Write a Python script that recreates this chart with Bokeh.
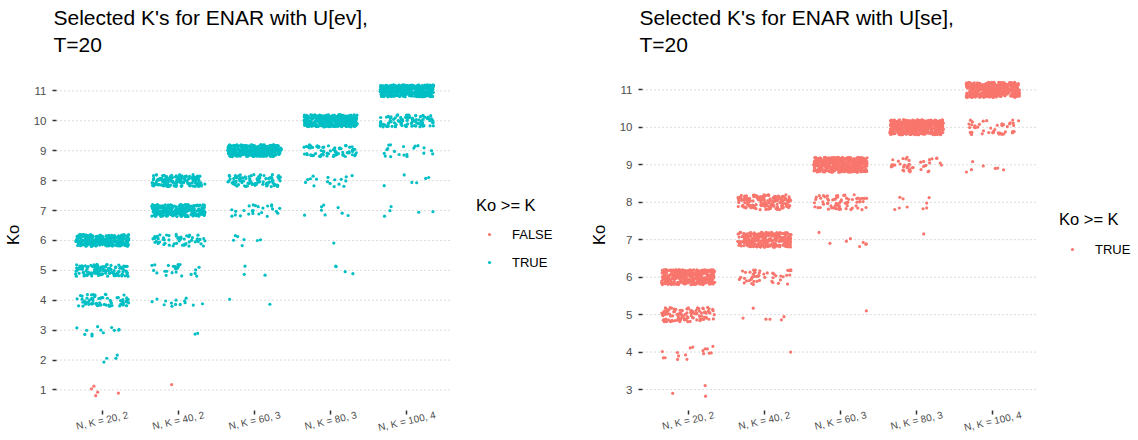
import math
from bokeh.plotting import figure
from bokeh.models import (ColumnDataSource, Range1d, FixedTicker,
                          Legend, LegendItem, LinearAxis)
from bokeh.transform import jitter
from bokeh.layouts import row
from bokeh.embed import file_html
from bokeh.resources import INLINE

FONT = "Liberation Sans"
RED = "#F8766D"
CYAN = "#00BFC4"

# ---- data (number of runs selecting each Ko, index = Ko - 1) ----
groups = ["N, K = 20, 2", "N, K = 40, 2", "N, K = 60, 3", "N, K = 80, 3", "N, K = 100, 4"]
true_k = [2, 2, 3, 3, 4]
ko_levels = [1, 2, 3, 4, 5, 6, 7, 8, 9, 10, 11]

ev_20_2 = [5, 4, 12, 70, 130, 279, 0, 0, 0, 0, 0]
ev_40_2 = [1, 0, 2, 14, 25, 55, 260, 143, 0, 0, 0]
ev_60_3 = [0, 0, 0, 2, 3, 7, 25, 90, 373, 0, 0]
ev_80_3 = [0, 0, 0, 0, 4, 1, 8, 17, 70, 400, 0]
ev_100_4 = [0, 0, 0, 0, 0, 0, 5, 6, 20, 95, 374]

se_20_2 = [0, 0, 3, 17, 115, 365, 0, 0, 0, 0, 0]
se_40_2 = [0, 0, 0, 1, 6, 48, 290, 155, 0, 0, 0]
se_60_3 = [0, 0, 0, 0, 1, 0, 8, 70, 421, 0, 0]
se_80_3 = [0, 0, 0, 0, 0, 0, 1, 9, 42, 448, 0]
se_100_4 = [0, 0, 0, 0, 0, 0, 0, 0, 7, 45, 448]

ev_counts = [ev_20_2, ev_40_2, ev_60_3, ev_80_3, ev_100_4]
se_counts = [se_20_2, se_40_2, se_60_3, se_80_3, se_100_4]

# discrete x positions of the categories (1..n, as in a discrete scale)
group_pos = [i + 1 for i in range(len(groups))]


def build(by_group):
    data = {"FALSE": {"x": [], "y": []}, "TRUE": {"x": [], "y": []}}
    for gx, k, counts in zip(group_pos, true_k, by_group):
        for ko, n in zip(ko_levels, counts):
            d = data["TRUE" if ko >= k else "FALSE"]
            d["x"] += [gx] * n
            d["y"] += [ko] * n
    return data


DATA_W = 396                       # width of the data panel (px)
FRAME_H = 351
X_START, X_DATA_END = 0.4, len(groups) + 0.6
PX_PER_UNIT = DATA_W / (X_DATA_END - X_START)
ANGLE = 13 * math.pi / 180
LABEL_PX = 10
CHAR_EM = {"N": .722, "K": .667, ",": .278, " ": .278, "=": .584}


def text_em(s):
    return sum(CHAR_EM.get(c, .556) for c in s)


def make_panel(title, by_group, y_start, y_end, ticks, frame_w, legend_xy, title_gap):
    # the frame also holds the legend area to the right of the data panel
    x_end = X_START + frame_w / PX_PER_UNIT
    p = figure(x_range=Range1d(X_START, x_end),
               y_range=Range1d(y_start, y_end), x_axis_location=None,
               frame_width=frame_w, frame_height=FRAME_H,
               min_border_left=0, min_border_right=0,
               min_border_top=0, min_border_bottom=0,
               output_backend="svg", toolbar_location=None)
    p.outline_line_color = None
    p.background_fill_color = "white"
    p.border_fill_color = "white"

    p.title.text = title
    p.title.text_font = FONT
    p.title.text_font_size = "21px"
    p.title.text_font_style = "normal"
    p.title.text_line_height = 1.2
    p.title.text_color = "black"
    p.title.align = "left"
    p.title.offset = -3
    p.title.standoff = 6

    p.xgrid.grid_line_color = None
    p.ygrid.grid_line_color = None
    # dotted horizontal grid lines across the data panel only
    grid_src = ColumnDataSource(dict(y=ticks, x0=[X_START] * len(ticks),
                                     x1=[X_DATA_END] * len(ticks)))
    p.segment(x0="x0", x1="x1", y0="y", y1="y", source=grid_src,
              line_color="#b5b5b5", line_dash="1 3", line_width=1, level="underlay")

    yax = p.yaxis[0]
    yax.ticker = FixedTicker(ticks=ticks)
    yax.axis_label = "Ko"
    yax.axis_label_text_font = FONT
    yax.axis_label_text_font_size = "16.5px"
    yax.axis_label_text_font_style = "normal"
    yax.axis_label_text_color = "black"
    yax.axis_label_standoff = 9
    yax.major_label_text_font = FONT
    yax.major_label_text_font_size = "11.5px"
    yax.major_label_text_color = "#4d4d4d"
    yax.major_label_standoff = 6
    yax.axis_line_color = None
    yax.major_tick_in = 0
    yax.major_tick_out = 4
    yax.major_tick_line_color = "#333333"
    yax.major_tick_line_width = 1.5
    yax.minor_tick_line_color = None

    # x axis: tick marks at category centres (minor ticks), slanted labels
    # centred under them (major ticks, shifted by half the label length)
    lab_pos = []
    for c, g in zip(group_pos, groups):
        shift = 0.5 * math.cos(ANGLE) * LABEL_PX * text_em(g)
        lab_pos.append(round(c + shift / PX_PER_UNIT, 4))
    xax = LinearAxis(ticker=FixedTicker(ticks=lab_pos, minor_ticks=group_pos),
                     major_label_overrides={v: g for v, g in zip(lab_pos, groups)},
                     major_label_orientation=ANGLE,
                     major_label_text_font=FONT,
                     major_label_text_font_size=f"{LABEL_PX}px",
                     major_label_text_color="#4d4d4d",
                     major_label_standoff=0,
                     axis_line_color=None,
                     major_tick_line_color=None, major_tick_in=0, major_tick_out=0,
                     minor_tick_line_color="#333333", minor_tick_line_width=1.5,
                     minor_tick_in=0, minor_tick_out=4)
    p.add_layout(xax, "below")

    data = build(by_group)
    colors = [RED, CYAN]
    items = []
    ci = 0
    for level in ["FALSE", "TRUE"]:
        d = data[level]
        if not d["x"]:
            continue
        src = ColumnDataSource(d)
        r = p.scatter(x=jitter("x", width=0.7), y=jitter("y", width=0.4),
                      source=src, size=3.2, marker="circle",
                      fill_color=colors[ci], line_color=None)
        items.append(LegendItem(label=level, renderers=[r]))
        ci += 1

    legend = Legend(items=items, location=legend_xy, title="Ko >= K",
                    title_text_font=FONT, title_text_font_size="16.5px",
                    title_text_font_style="normal",
                    title_text_color="black", title_standoff=title_gap,
                    label_text_font=FONT, label_text_font_size="13px",
                    label_text_color="black", label_standoff=10,
                    glyph_width=26, glyph_height=8, label_height=16,
                    spacing=12, padding=0, margin=0,
                    border_line_color=None, background_fill_alpha=0)
    p.add_layout(legend, "center")
    return p


p1 = make_panel("Selected K's for ENAR with U[ev],\nT=20", ev_counts,
                0.314, 12.05, list(range(1, 12)), 530, (420, 140), 11)
p2 = make_panel("Selected K's for ENAR with U[se],\nT=20", se_counts,
                2.44, 11.81, list(range(3, 12)), 490, (417, 153), 12)

layout = row(p1, p2)
open("out.html", "w").write(file_html(layout, INLINE))
